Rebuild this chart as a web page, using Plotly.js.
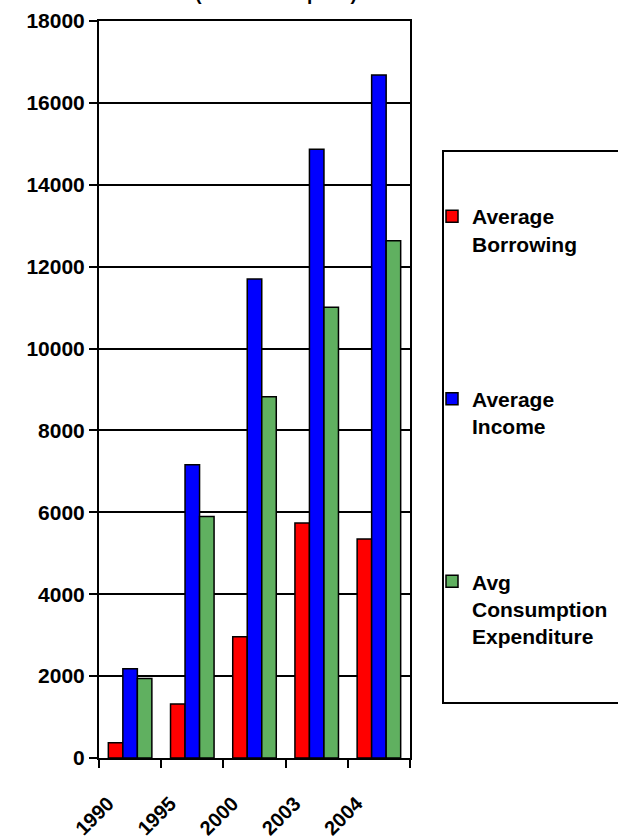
<!DOCTYPE html>
<html>
<head>
<meta charset="utf-8">
<script src="https://cdn.plot.ly/plotly-3.0.1.min.js"></script>
<style>
  html, body { margin: 0; padding: 0; background: #ffffff; }
  #chart { width: 618px; height: 840px; }
</style>
</head>
<body>
<div id="chart"></div>
<script>
// Survey years
const years = ['1990', '1995', '2000', '2003', '2004'];

// Per-year averages for each series
const avgBorrowing = [370, 1320, 2960, 5740, 5350];
const avgIncome = [2180, 7160, 11700, 14870, 16680];
const avgConsumption = [1940, 5900, 8820, 11010, 12630];

// Legend labels (wrapped as in the chart)
const seriesNames = ['Average<br>Borrowing', 'Average<br>Income', 'Avg<br>Consumption<br>Expenditure'];

// Y axis ticks
const yTicks = [0, 2000, 4000, 6000, 8000, 10000, 12000, 14000, 16000, 18000];

const FONT = 'Liberation Sans, Arial, Helvetica, sans-serif';
const W = 618, H = 840;
const M = { l: 99, r: 208, t: 21, b: 82, autoexpand: false };
const plotW = W - M.l - M.r;
const plotH = H - M.t - M.b;
const px2x = p => (p - M.l) / plotW;
const py2y = p => (H - M.b - p) / plotH;

const colors = ['#ff0000', '#0000ff', '#60b060'];
const seriesValues = [avgBorrowing, avgIncome, avgConsumption];

const traces = seriesValues.map((vals, i) => ({
  type: 'bar',
  name: seriesNames[i],
  x: years,
  y: vals,
  legendgroup: 'g' + i,
  marker: { color: colors[i], line: { color: '#000000', width: 1.5 } },
  hoverinfo: 'x+y'
}));

const layout = {
  width: W,
  height: H,
  margin: M,
  paper_bgcolor: '#ffffff',
  plot_bgcolor: '#ffffff',
  font: { family: FONT, size: 21, color: '#000000', weight: 'bold' },
  // Title sits at the very top edge of the page
  title: {
    text: '(Nominal Rupees)',
    font: { family: FONT, size: 19, color: '#000000', weight: 'bold' },
    xref: 'container', yref: 'container',
    x: 276 / W, xanchor: 'center',
    y: 1, yanchor: 'bottom',
    pad: { t: 0, b: 0, l: 0, r: 0 }
  },
  barmode: 'group',
  bargap: 0.3,
  bargroupgap: 0,
  showlegend: true,
  legend: {
    x: px2x(432), xanchor: 'left',
    y: py2y(196), yanchor: 'top',
    bgcolor: 'rgba(0,0,0,0)',
    borderwidth: 0,
    traceorder: 'grouped',
    tracegroupgap: 125,
    valign: 'top',
    font: { family: FONT, size: 21, color: '#000000', weight: 'bold' }
  },
  xaxis: {
    type: 'category',
    tickson: 'boundaries',
    ticks: 'outside',
    ticklen: 8,
    tickwidth: 2,
    tickcolor: '#000000',
    tickangle: -45,
    ticklabelstandoff: 24,
    ticklabelshift: -22,
    showline: true,
    linecolor: '#000000',
    linewidth: 2,
    mirror: true,
    showgrid: false,
    zeroline: false,
    tickfont: { family: FONT, size: 20, color: '#000000', weight: 'bold' }
  },
  yaxis: {
    range: [0, 18000],
    tickvals: yTicks,
    ticktext: yTicks.map(String),
    ticks: 'outside',
    ticklen: 8,
    tickwidth: 2,
    tickcolor: '#000000',
    showline: true,
    linecolor: '#000000',
    linewidth: 2,
    mirror: true,
    showgrid: true,
    gridcolor: '#000000',
    gridwidth: 2,
    zeroline: false,
    tickfont: { family: FONT, size: 21, color: '#000000', weight: 'bold' }
  },
  // Legend frame, running off the right edge of the page
  shapes: [{
    type: 'rect',
    xref: 'paper', yref: 'paper',
    x0: px2x(443), x1: px2x(700),
    y0: py2y(703), y1: py2y(151),
    line: { color: '#000000', width: 2 },
    fillcolor: 'rgba(0,0,0,0)',
    layer: 'above'
  }]
};

Plotly.newPlot('chart', traces, layout, { displayModeBar: false, staticPlot: true });
</script>
</body>
</html>
